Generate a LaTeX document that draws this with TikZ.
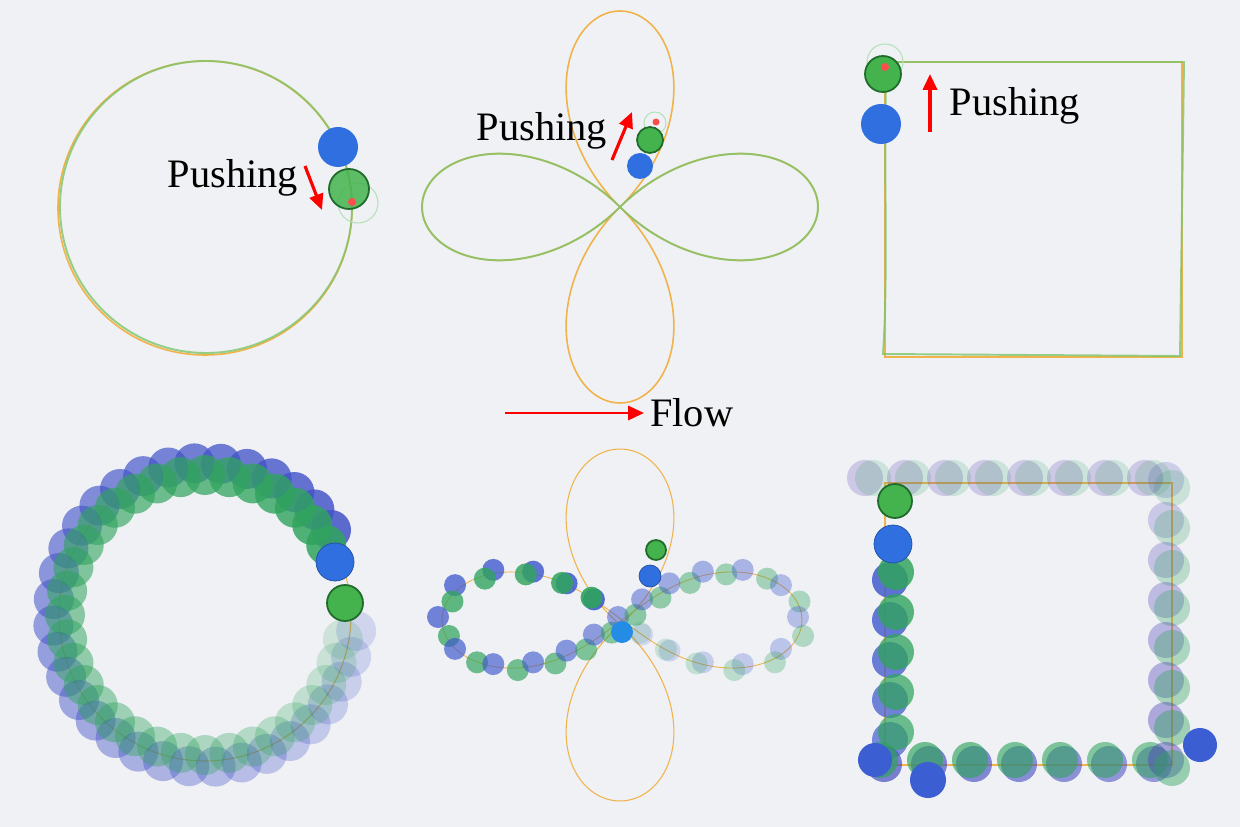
\documentclass[tikz,border=0pt]{standalone}
\usepackage{fontspec}
\setmainfont{Liberation Serif}
\usepackage{tikz}
\usetikzlibrary{arrows.meta}
\definecolor{bgc}{HTML}{EFF1F5}
\definecolor{pathc}{HTML}{F2B24A}
\definecolor{trackc}{HTML}{7EC46A}
\definecolor{bluec}{HTML}{2F6FE0}
\definecolor{greenc}{HTML}{44B34E}
\definecolor{edgec}{HTML}{1E6B2A}
\tikzset{
  ref/.style={draw=pathc,line width=0.9pt},
  trk/.style={draw=trackc,line width=1.1pt,opacity=0.8},
  bdisk/.style={fill=bluec,draw=bluec!70!black,line width=0.4pt},
  gdisk/.style={fill=greenc,draw=edgec,line width=1pt},
  tdisk/.style={fill=greenc!70!teal,draw=none},
  push/.style={-{Triangle[length=9pt,width=8pt]},red,line width=1.8pt},
  lbl/.style={font=\fontsize{23}{25}\selectfont,anchor=center}
}
\begin{document}
\begin{tikzpicture}[x=0.02cm,y=-0.02cm]
\useasboundingbox (0,0) rectangle (1240,827);
\fill[bgc] (0,0) rectangle (1240,827);
% top left
\draw[ref] (205,208) circle (147);
\draw[trk] (206,207) circle (146);
\fill[bluec] (338,147) circle (20);
\draw[greenc!40,line width=0.6pt] (358,203) circle (20);
\fill[gdisk,fill opacity=0.85] (349,189) circle (20);
\fill[red!70] (352,202) circle (4);
\node[lbl] (p1) at (233,178) {Pushing};
\coordinate (a1) at (305,166);
\coordinate (b1) at (322,210);
\draw[push] (a1) -- (b1);
% top middle
\draw[ref] plot[domain=0:360,samples=240,smooth] ({620+198*cos(2*\x)*cos(\x)},{207+196*cos(2*\x)*sin(\x)});
\draw[trk] plot[domain=-45:45,samples=60,smooth] ({620+198*cos(2*\x)*cos(\x)},{207+196*cos(2*\x)*sin(\x)});
\draw[trk] plot[domain=135:225,samples=60,smooth] ({620+198*cos(2*\x)*cos(\x)},{207+196*cos(2*\x)*sin(\x)});
\draw[greenc!40,line width=0.6pt] (655,123) circle (11);
\fill[bluec] (640,166) circle (13);
\fill[gdisk] (650,140) circle (13);
\fill[red!70] (656,122) circle (3.5);
\node[lbl] (p2) at (542,131) {Pushing};
\coordinate (a2) at (612,160);
\coordinate (b2) at (632,112);
\draw[push] (a2) -- (b2);
% top right
\draw[ref] (885,62) rectangle (1182,357);
\draw[trk] (886,62) .. controls (884,200) and (888,280) .. (883,354) -- (1180,356) -- (1184,62) -- cycle;
\draw[greenc!40,line width=0.6pt] (885,62) circle (18);
\fill[bluec] (881,124) circle (20);
\fill[gdisk] (883,74) circle (18);
\fill[red!70] (885,67) circle (4);
\node[lbl] (p3) at (1015,106) {Pushing};
\coordinate (a3) at (930,132);
\coordinate (b3) at (930,74);
\draw[push] (a3) -- (b3);
% flow
\coordinate (f0) at (505,413);
\node[lbl,anchor=west] (flow) at (644,413) {Flow};
\draw[push,line width=1.6pt] (f0) -- (flow.west);
% bottom left
\draw[ref,line width=0.6pt] (205,615) circle (146);
\foreach \a [evaluate=\a as \o using {max(0.15,0.85-0.0021*(\a-30))}] in {30,40,...,350} {
  \fill[bluec!75!violet,opacity=\o] ({205+152*cos(\a+4)},{615-152*sin(\a+4)}) circle (20);
  \fill[tdisk,opacity=\o] ({205+140*cos(\a)},{615-140*sin(\a)}) circle (20);
}
\fill[bluec,draw=bluec!70!black] (335,562) circle (19);
\fill[gdisk] (345,603) circle (18);
% bottom middle
\draw[ref,line width=0.6pt] plot[domain=45:135,samples=80,smooth] ({620+198*cos(2*\x)*cos(\x)},{625+176*cos(2*\x)*sin(\x)});
\draw[ref,line width=0.6pt] plot[domain=225:315,samples=80,smooth] ({620+198*cos(2*\x)*cos(\x)},{625+176*cos(2*\x)*sin(\x)});
\draw[ref,line width=0.5pt] plot[domain=0:360,samples=120,smooth] ({622+180*cos(\x)/(1+sin(\x)^2)},{620+136*sin(\x)*cos(\x)/(1+sin(\x)^2)});
\foreach \t [evaluate=\t as \o using {max(0.15,0.9-0.0022*(\t-100))}] in {105,120,...,440} {
  \fill[bluec!80!violet,opacity=\o] ({618+180*cos(\t)/(1+sin(\t)^2)},{617+136*sin(\t)*cos(\t)/(1+sin(\t)^2)}) circle (11);
  \fill[tdisk,opacity=\o] ({626+180*cos(\t+6)/(1+sin(\t+6)^2)},{622+136*sin(\t+6)*cos(\t+6)/(1+sin(\t+6)^2)}) circle (11);
}
\fill[bluec!80!cyan] (622,632) circle (11);
\fill[bluec,draw=bluec!70!black] (650,576) circle (11);
\fill[gdisk] (656,550) circle (10);
% bottom right
\draw[ref,line width=0.6pt] (885,483) rectangle (1172,765);
\foreach \y [evaluate=\y as \o using {0.85-0.0009*(\y-560)}] in {580,620,...,760} {
  \fill[bluec!80!violet,opacity=\o] (890,\y) circle (18);
  \fill[tdisk,opacity=\o] (896,\y-8) circle (18);
}
\foreach \x [evaluate=\x as \o using {0.7-0.0006*(\x-880)}] in {880,925,...,1170} {
  \fill[bluec!70!violet,opacity=\o] (\x+4,764) circle (18);
  \fill[tdisk,opacity=\o] (\x,760) circle (18);
}
\foreach \y [evaluate=\y as \o using {0.45-0.0009*(760-\y)}] in {480,520,...,760} {
  \fill[bluec!60!violet,opacity=\o] (1166,\y) circle (18);
  \fill[tdisk,opacity=\o] (1172,\y+8) circle (18);
}
\foreach \x in {865,905,...,1180} {
  \fill[bluec!50!violet,opacity=0.22] (\x,478) circle (18);
  \fill[tdisk,opacity=0.18] (\x+8,478) circle (18);
}
\fill[bluec!85!violet] (875,760) circle (17);
\fill[bluec!85!violet] (928,780) circle (18);
\fill[bluec!85!violet] (1200,745) circle (17);
\fill[bluec,draw=bluec!70!black] (893,544) circle (19);
\fill[gdisk] (895,501) circle (17);
\end{tikzpicture}
\end{document}
